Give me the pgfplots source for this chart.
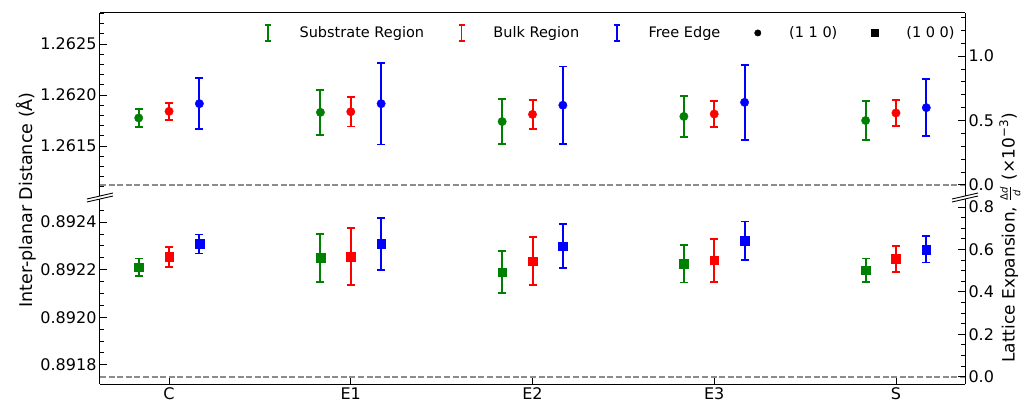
\documentclass[border=0pt]{standalone}
\usepackage{pgfplots}
\usepackage{pgfplotstable}
\pgfplotsset{compat=1.18}
\usepackage{fontspec}
\setmainfont{DejaVu Sans}
\definecolor{mgreen}{HTML}{008000}
\definecolor{mred}{HTML}{FF0000}
\definecolor{mblue}{HTML}{0000FF}

% (1 1 0) data: x offset, d, error
\pgfplotstableread{
x y e
-0.167 1.261775 0.00009
0.833 1.26183 0.00022
1.833 1.26174 0.00022
2.833 1.26179 0.00020
3.833 1.26175 0.00019
}\tgreen
\pgfplotstableread{
x y e
0 1.26184 0.000085
1 1.261836 0.000145
2 1.26181 0.00014
3 1.261814 0.00013
4 1.261824 0.00013
}\tred
\pgfplotstableread{
x y e
0.167 1.261915 0.00025
1.167 1.261915 0.0004
2.167 1.26190 0.00038
3.167 1.261928 0.00037
4.167 1.261876 0.00028
}\tblue
% (1 0 0) data
\pgfplotstableread{
x y e
-0.167 0.892210 0.000037
0.833 0.892249 0.00010
1.833 0.892189 0.000088
2.833 0.892224 0.000078
3.833 0.892197 0.00005
}\bgreen
\pgfplotstableread{
x y e
0 0.892254 0.000042
1 0.892254 0.00012
2 0.892236 0.00010
3 0.892239 0.00009
4 0.892245 0.000055
}\bred
\pgfplotstableread{
x y e
0.167 0.892308 0.00004
1.167 0.892308 0.00011
2.167 0.892299 0.000093
3.167 0.892322 0.00008
4.167 0.892285 0.000055
}\bblue

\pgfplotsset{
  base/.style={
    scale only axis, width=865pt, xmin=-0.38, xmax=4.38,
    tick align=inside, major tick length=7pt, minor tick length=4pt,
    every tick/.style={black, line width=0.8pt},
    axis line style={line width=1pt, black},
    ticklabel style={font=\fontsize{16}{19}\selectfont},
    /pgf/number format/assume math mode=true,
    scaled y ticks=false,
    clip=false,
  },
  eb/.style={only marks, forget plot, mark=#1,
    error bars/.cd, y dir=both, y explicit,
    error bar style={line width=2pt},
    error mark options={rotate=90, mark size=4pt, line width=1.8pt},
    /pgfplots/.cd},
  dline/.style={color=black!45, line width=1.8pt, dash pattern=on 6pt off 2.6pt, forget plot},
}

\begin{document}
\begin{tikzpicture}
\useasboundingbox (-100pt,-15pt) rectangle (927pt,384pt);
% ---------- bottom left
\begin{axis}[base, at={(0,0)}, anchor=south west, height=185pt,
  ymin=0.891719, ymax=0.892497,
  axis x line*=bottom, axis y line*=left,
  xtick={0,1,2,3,4}, xticklabels={C,E1,E2,E3,S},
  ytick={0.8918,0.8920,0.8922,0.8924},
  minor ytick={0.89175,0.89185,0.8919,0.89195,0.89205,0.8921,0.89215,0.89225,0.8923,0.89235,0.89245},
  yticklabel style={/pgf/number format/.cd, fixed, fixed zerofill, precision=4},
]
\addplot[dline] coordinates {(-0.38,0.89175) (4.38,0.89175)};
\addplot[eb=square*, mgreen, mark size=4.3pt] table[x=x,y=y,y error=e] {\bgreen};
\addplot[eb=square*, mred, mark size=4.3pt] table[x=x,y=y,y error=e] {\bred};
\addplot[eb=square*, mblue, mark size=4.3pt] table[x=x,y=y,y error=e] {\bblue};
\end{axis}
% ---------- bottom right
\begin{axis}[base, at={(0,0)}, anchor=south west, height=185pt,
  ymin=-0.0348, ymax=0.8377,
  axis x line=none, axis y line*=right,
  ytick={0,0.2,0.4,0.6,0.8},
  minor ytick={0.05,0.1,0.15,0.25,0.3,0.35,0.45,0.5,0.55,0.65,0.7,0.75},
  yticklabel style={/pgf/number format/.cd, fixed, fixed zerofill, precision=1},
]
\addplot[draw=none, forget plot] coordinates {(0,0)};
\end{axis}
% ---------- top left
\begin{axis}[base, at={(0,188pt)}, anchor=south west, height=183pt,
  ymin=1.261010, ymax=1.262804,
  axis x line*=top, axis y line*=left, xtick=\empty,
  ytick={1.2615,1.2620,1.2625},
  minor ytick={1.2611,1.2612,1.2613,1.2614,1.2616,1.2617,1.2618,1.2619,1.2621,1.2622,1.2623,1.2624,1.2626,1.2627,1.2628},
  yticklabel style={/pgf/number format/.cd, fixed, fixed zerofill, precision=4},
  legend columns=5,
  legend style={draw=none, fill=none, at={(0.994,0.891)}, anchor=east,
    font=\fontsize{14.5}{17}\selectfont,
    /tikz/every even column/.append style={column sep=32pt},
    /tikz/every odd column/.append style={column sep=26pt}},
]
\addplot[dline] coordinates {(-0.38,1.26112) (4.38,1.26112)};
\addplot[eb=*, mgreen, mark size=4.2pt] table[x=x,y=y,y error=e] {\tgreen};
\addplot[eb=*, mred, mark size=4.2pt] table[x=x,y=y,y error=e] {\tred};
\addplot[eb=*, mblue, mark size=4.2pt] table[x=x,y=y,y error=e] {\tblue};
\addlegendimage{legend image code/.code={
  \draw[mgreen, line width=1.3pt] (10pt,-8pt) -- (10pt,8pt);
  \draw[mgreen, line width=1.3pt] (7pt,-8pt) -- (13pt,-8pt);
  \draw[mgreen, line width=1.3pt] (7pt,8pt) -- (13pt,8pt);}}
\addlegendentry{Substrate Region}
\addlegendimage{legend image code/.code={
  \draw[mred, line width=1.3pt] (10pt,-8pt) -- (10pt,8pt);
  \draw[mred, line width=1.3pt] (7pt,-8pt) -- (13pt,-8pt);
  \draw[mred, line width=1.3pt] (7pt,8pt) -- (13pt,8pt);}}
\addlegendentry{Bulk Region}
\addlegendimage{legend image code/.code={
  \draw[mblue, line width=1.3pt] (10pt,-8pt) -- (10pt,8pt);
  \draw[mblue, line width=1.3pt] (7pt,-8pt) -- (13pt,-8pt);
  \draw[mblue, line width=1.3pt] (7pt,8pt) -- (13pt,8pt);}}
\addlegendentry{Free Edge}
\addlegendimage{legend image code/.code={
  \fill[black] (10pt,0pt) circle (3.2pt);}}
\addlegendentry{(1 1 0)}
\addlegendimage{legend image code/.code={
  \fill[black] (6.7pt,-3.3pt) rectangle (13.3pt,3.3pt);}}
\addlegendentry{(1 0 0)}
\end{axis}
% ---------- top right
\begin{axis}[base, at={(0,188pt)}, anchor=south west, height=183pt,
  ymin=-0.0872, ymax=1.3353,
  axis x line=none, axis y line*=right,
  ytick={0,0.5,1.0},
  minor ytick={0.1,0.2,0.3,0.4,0.6,0.7,0.8,0.9,1.1,1.2,1.3},
  yticklabel style={/pgf/number format/.cd, fixed, fixed zerofill, precision=1},
]
\addplot[draw=none, forget plot] coordinates {(0,0)};
\end{axis}
% break marks
\draw[line width=0.9pt] (-13pt,185pt) -- (13pt,191pt);
\draw[line width=0.9pt] (-13pt,182pt) -- (13pt,188pt);
\draw[line width=0.9pt] (852pt,185pt) -- (878pt,191pt);
\draw[line width=0.9pt] (852pt,182pt) -- (878pt,188pt);
% axis labels
\node[rotate=90, font=\fontsize{17.5}{21}\selectfont] at (-74pt,184pt) {Inter-planar Distance (Å)};
\node[rotate=90, font=\fontsize{17}{21}\selectfont] at (910pt,146pt)
  {Lattice Expansion, $\frac{\mbox{\fontsize{10}{12}\selectfont Δ\itshape d}}{\mbox{\fontsize{10}{12}\selectfont\itshape d}}$ (×10\textsuperscript{−3})};
\end{tikzpicture}
\end{document}
